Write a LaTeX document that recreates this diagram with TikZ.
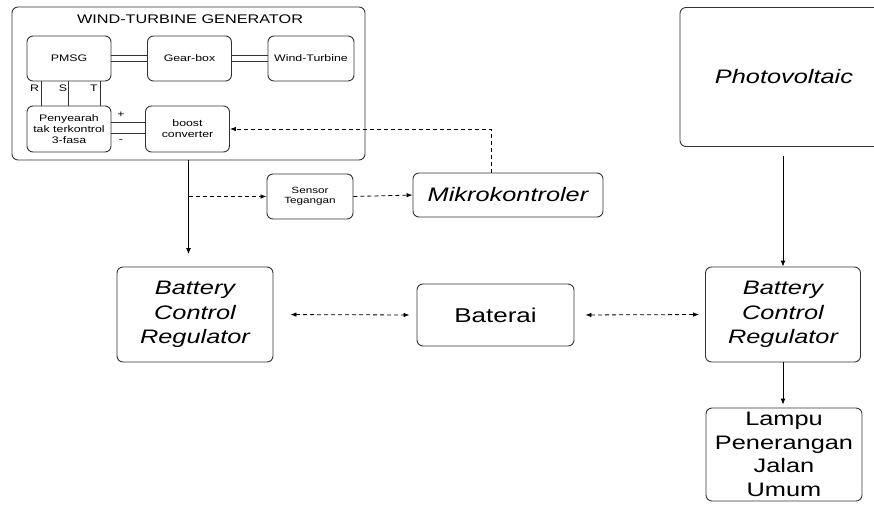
\documentclass[tikz,border=0pt]{standalone}
\usepackage{fontspec}
\setsansfont{Liberation Sans}[FakeStretch=1.3]
\usetikzlibrary{positioning, arrows.meta}

\begin{document}
\begin{tikzpicture}[
  x=1pt, y=-1pt,
  font=\sffamily,
  every node/.style={inner sep=2pt},
  frame/.style={draw=black!80, line width=0.9pt, rounded corners=6pt},
  unit/.style={
    frame, minimum width=84pt, minimum height=45pt, align=center,
    font=\sffamily\fontsize{9.5}{11}\selectfont,
  },
  block/.style={
    frame, align=center, font=\sffamily\fontsize{19.5}{24}\selectfont,
  },
  tag/.style={font=\sffamily\fontsize{9.5}{11}\selectfont, inner sep=0pt},
  wire/.style={line width=0.8pt, draw=black!80},
  arr/.style={-{Latex[length=6pt,width=5pt]}, line width=0.9pt},
  sig/.style={-{Latex[length=6pt,width=4.5pt]}, line width=0.8pt,
              dash pattern=on 4pt off 3pt},
  bisig/.style={{Latex[length=6pt,width=4.5pt]}-{Latex[length=6pt,width=4.5pt]},
                line width=0.8pt, dash pattern=on 4pt off 3pt},
]

\useasboundingbox (0,0) rectangle (874,504);

% ── Wind-turbine generator group ───────────────────────────────────
\node[frame, minimum width=353pt, minimum height=153pt] (wtg) at (188.5,83.5) {};
\node[font=\sffamily\fontsize{12.5}{14}\selectfont] (wtgtitle) at (190,19)
  {WIND-TURBINE GENERATOR};

\node[unit] (pmsg)    at (69,58.5)    {PMSG};
\node[unit] (gearbox) at (189.5,58.5) {Gear-box};
\node[unit, minimum width=86pt] (turbine) at (311,58.5) {Wind-Turbine};
\node[unit, minimum height=46pt] (rect)  at (69,129)    {Penyearah\\tak terkontrol\\3-fasa};
\node[unit, minimum height=46pt] (boost) at (187.5,129) {boost\\converter};

% shafts (double lines)
\draw[wire] ([yshift=3pt]pmsg.east)     -- ([yshift=3pt]gearbox.west);
\draw[wire] ([yshift=-3pt]pmsg.east)    -- ([yshift=-3pt]gearbox.west);
\draw[wire] ([yshift=3pt]gearbox.east)  -- ([yshift=3pt]turbine.west);
\draw[wire] ([yshift=-3pt]gearbox.east) -- ([yshift=-3pt]turbine.west);

% three phases R, S, T
\draw[wire] ([xshift=-28pt]pmsg.south) -- ([xshift=-28pt]rect.north);
\draw[wire] ([xshift=-1pt]pmsg.south)  -- ([xshift=-1pt]rect.north);
\draw[wire] ([xshift=31pt]pmsg.south)  -- ([xshift=31pt]rect.north);
\node[tag] (phR) at (34.5,88) {R};
\node[tag] (phS) at (63,88)   {S};
\node[tag] (phT) at (94,88)   {T};

% DC link + / -
\draw[wire] ([yshift=7pt]rect.east)  -- ([yshift=7pt]boost.west);
\draw[wire] ([yshift=-4pt]rect.east) -- ([yshift=-4pt]boost.west);
\node[tag] (plus)  at (121,115) {+};
\node[tag] (minus) at (121,141) {-};

% ── Sensing / control ──────────────────────────────────────────────
\node[unit, minimum width=86pt, font=\sffamily\fontsize{9}{10.5}\selectfont]
  (sensor) at (310,196.5) {Sensor\\Tegangan};
\node[block, minimum width=190pt, minimum height=44pt, font=\sffamily\itshape\fontsize{19.5}{24}\selectfont]
  (mikro) at (508,195) {Mikrokontroler};

\coordinate (tap)  at (wtg.south |- sensor.west);
\coordinate (drop) at (188.5,254);
\draw[arr] (wtg.south) -- (drop);
\draw[sig] (tap) -- (sensor.west);
\draw[sig] (sensor.east) -- (mikro.west);
\draw[sig] ([xshift=-17pt]mikro.north) |- (boost.east);

% ── Storage row ────────────────────────────────────────────────────
\node[block, minimum width=156pt, minimum height=95pt, font=\sffamily\itshape\fontsize{19.5}{24.5}\selectfont]
  (bcrL) at (195,314.5) {Battery\\Control\\Regulator};
\node[block, minimum width=157pt, minimum height=62pt, font=\sffamily\fontsize{20}{24}\selectfont]
  (baterai) at (495.5,315) {Baterai};
\node[block, minimum width=155pt, minimum height=95pt, font=\sffamily\itshape\fontsize{19.5}{24.5}\selectfont]
  (bcrR) at (783,314.5) {Battery\\Control\\Regulator};

\draw[bisig, shorten <=17pt, shorten >=7pt] (bcrL.east) -- (baterai.west);
\draw[bisig, shorten <=11pt, shorten >=6pt] (baterai.east) -- (bcrR.west);

% ── PV side ────────────────────────────────────────────────────────
\node[block, minimum width=208pt, minimum height=139pt, font=\sffamily\itshape\fontsize{19.5}{24}\selectfont]
  (pv) at (784,77) {Photovoltaic};
\node[block, minimum width=156pt, minimum height=93pt, font=\sffamily\fontsize{19.5}{23.5}\selectfont]
  (lampu) at (784,454.5) {Lampu\\Penerangan\\Jalan\\Umum};

\draw[arr, shorten <=9pt] (pv.south -| bcrR.north) -- (bcrR.north);
\draw[arr, shorten >=3pt] (bcrR.south) -- (bcrR.south |- lampu.north);

\end{tikzpicture}
\end{document}
